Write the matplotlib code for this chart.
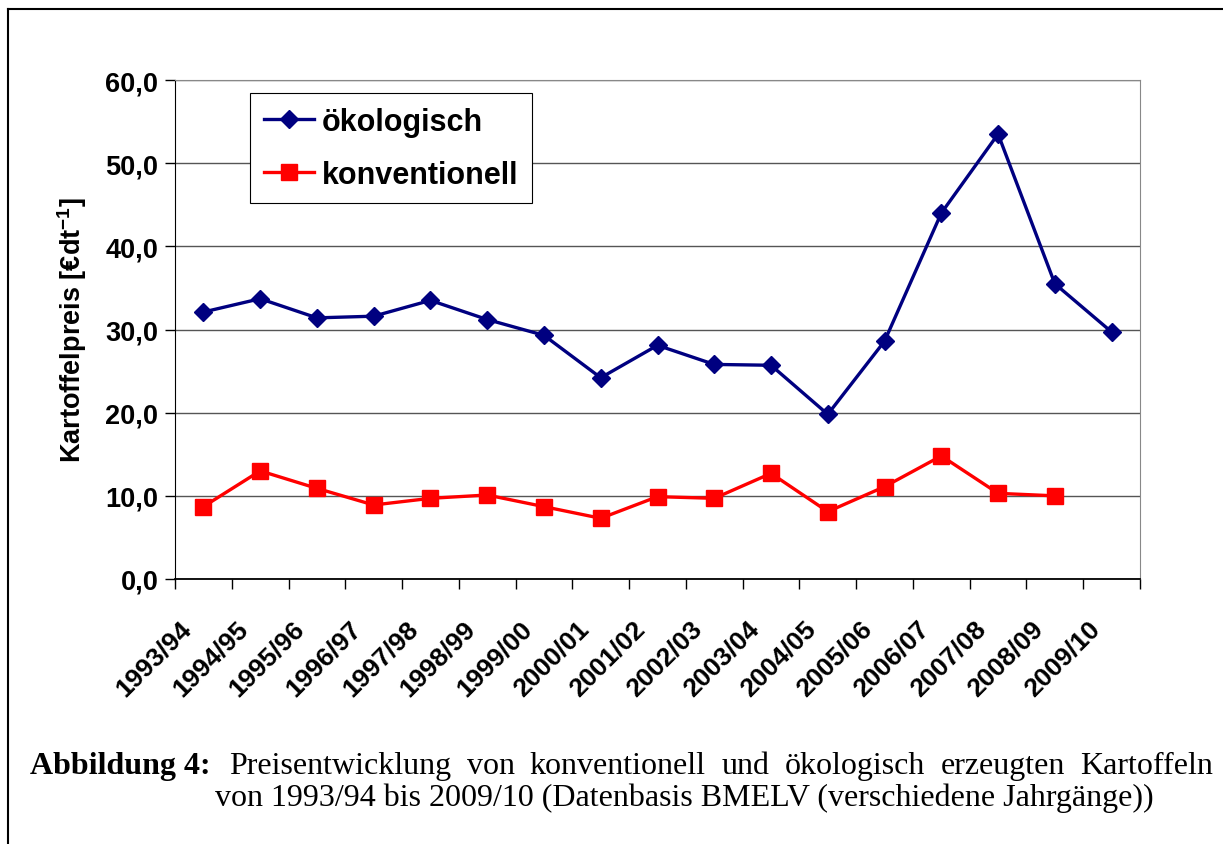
import matplotlib
matplotlib.use("Agg")
import matplotlib.pyplot as plt
import numpy as np
from matplotlib.lines import Line2D
from matplotlib.transforms import ScaledTranslation

seasons = ['1993/94', '1994/95', '1995/96', '1996/97', '1997/98', '1998/99', '1999/00',
           '2000/01', '2001/02', '2002/03', '2003/04', '2004/05', '2005/06', '2006/07',
           '2007/08', '2008/09', '2009/10']
oeko = [32.1, 33.7, 31.4, 31.6, 33.5, 31.2, 29.3, 24.2, 28.1, 25.8, 25.7, 19.8, 28.6,
        44.0, 53.5, 35.5, 29.7]
konv = [8.7, 13.0, 10.9, 8.9, 9.7, 10.1, 8.7, 7.3, 9.9, 9.7, 12.7, 8.1, 11.1, 14.8,
        10.3, 10.0, np.nan]
yticks = [0, 10, 20, 30, 40, 50, 60]

caption_head = 'Abbildung 4:'
caption_line1 = 'Preisentwicklung von konventionell und ökologisch erzeugten Kartoffeln'
caption_line2 = 'von 1993/94 bis 2009/10 (Datenbasis BMELV (verschiedene Jahrgänge))'

plt.rcParams['font.family'] = 'Liberation Sans'
plt.rcParams['font.weight'] = 'bold'

W, H = 1223, 845
fig = plt.figure(figsize=(W / 100, H / 100), dpi=100)
ax = fig.add_axes([175 / W, 1 - 580 / H, 965 / W, 499 / H])

x = np.arange(len(seasons))
ax.plot(x, oeko, color='#000080', lw=2.4, marker='D', ms=9.5, label='ökologisch')
ax.plot(x, konv, color='#FF0000', lw=2.4, marker='s', ms=11, label='konventionell')

ax.set_xlim(-0.5, len(seasons) - 0.5)
ax.set_ylim(0, 60)
ax.set_yticks(yticks)
ax.set_yticklabels([('%.1f' % v).replace('.', ',') for v in yticks])
ax.yaxis.grid(True, color='#555555', lw=1)
ax.set_axisbelow(True)

ax.set_xticks(np.arange(-0.5, len(seasons), 1))
ax.set_xticklabels([])
ax.set_xticks(x, minor=True)
ax.set_xticklabels(seasons, minor=True, rotation=45, ha='right', va='center',
                   rotation_mode='anchor', fontsize=19, fontweight='bold')
ax.tick_params(axis='x', which='minor', length=0, pad=0)
ax.tick_params(axis='x', which='major', length=7, width=1, direction='out')
ax.tick_params(axis='y', length=7, width=1, labelsize=19.5, pad=5)
shift = ScaledTranslation(-0.16, -0.45, fig.dpi_scale_trans)
for lab in ax.get_xticklabels(minor=True):
    lab.set_transform(lab.get_transform() + shift)

ax.spines['left'].set_color('black')
ax.spines['bottom'].set_color('black')
ax.spines['bottom'].set_linewidth(1.3)
ax.spines['top'].set_color('#888888')
ax.spines['right'].set_color('#888888')

ax.set_ylabel('Kartoffelpreis [€dt$^{\\mathregular{-1}}$]', fontsize=19.5, fontweight='bold',
              labelpad=12)

leg = ax.legend(loc='upper left', bbox_to_anchor=((250 - 175) / 965, (580 - 94) / 499),
                borderaxespad=0, fancybox=False, edgecolor='black', framealpha=1,
                fontsize=22, handlelength=1.65, handletextpad=0.25, labelspacing=0.75,
                borderpad=0.45)
leg.get_frame().set_linewidth(0.8)

# caption, first line justified between the margins
cap = dict(family='Liberation Serif', fontsize=23, va='baseline')
renderer = fig.canvas.get_renderer()
head = fig.text(30 / W, 1 - 774 / H, caption_head, fontweight='bold', **cap)
x0 = 229
x1 = 1213
words = caption_line1.split()
arts = [fig.text(0, 1 - 774 / H, w_, fontweight='normal', **cap) for w_ in words]
widths = [a.get_window_extent(renderer).width for a in arts]
gap = (x1 - x0 - sum(widths)) / (len(words) - 1)
pos = x0
for a, wd in zip(arts, widths):
    a.set_x(pos / W)
    pos += wd + gap
fig.text(215 / W, 1 - 806 / H, caption_line2, fontweight='normal', **cap)

# frame lines around the figure
fig.add_artist(Line2D([8 / W, 1], [1 - 10 / H, 1 - 10 / H], color='black', lw=1.5))
fig.add_artist(Line2D([8 / W, 8 / W], [0, 1 - 10 / H], color='black', lw=1.5))

fig.savefig('out.png', dpi=100)
